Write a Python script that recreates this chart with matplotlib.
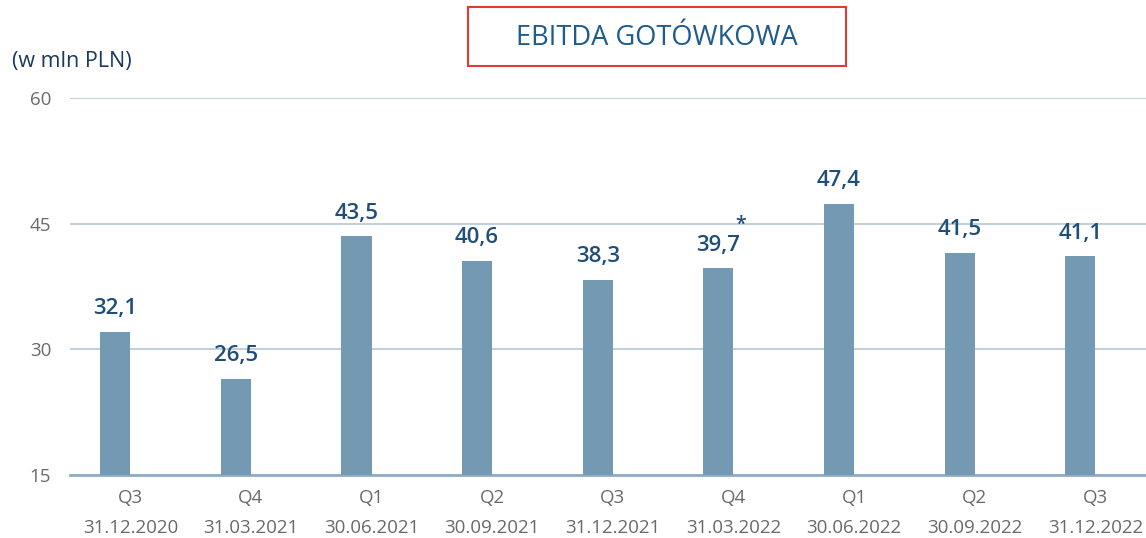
import matplotlib.pyplot as plt
import matplotlib.patches as mpatches
import numpy as np

quarters = ['Q3', 'Q4', 'Q1', 'Q2', 'Q3', 'Q4', 'Q1', 'Q2', 'Q3']
dates = ['31.12.2020', '31.03.2021', '30.06.2021', '30.09.2021', '31.12.2021',
         '31.03.2022', '30.06.2022', '30.09.2022', '31.12.2022']
values = [32.1, 26.5, 43.5, 40.6, 38.3, 39.7, 47.4, 41.5, 41.1]
starred = [5]  # index of the bar with the asterisk

plt.rcParams['font.family'] = ['Open Sans', 'DejaVu Sans']

BAR = '#7399b3'
NAVY = '#1f4e79'
GRID = '#b4c7d6'
TICK = '#6a6a6a'

fig = plt.figure(figsize=(11.46, 5.38), dpi=100)
ax = fig.add_axes([70 / 1146, 63 / 538, 1076 / 1146, 377 / 538])

x = np.arange(len(values))
ax.bar(x, values, width=0.25, align='edge', color=BAR, zorder=3)
# bars sit left of the category centre
for p in ax.patches:
    p.set_x(p.get_x() - 0.25)

for i, v in enumerate(values):
    ax.text(i - 0.125, v + 1.5, f'{v:.1f}'.replace('.', ','), ha='center', va='bottom',
            fontsize=16, color=NAVY, fontweight='semibold')
for i in starred:
    ax.text(i + 0.06, values[i] + 5.2, '*', ha='center', va='center',
            fontsize=14, color=NAVY, fontweight='semibold')

ax.set_xlim(-0.5, 8.42)
ax.set_ylim(15, 60)
ax.set_yticks([15, 30, 45, 60])
ax.set_yticklabels(['15', '30', '45', '60'])
ax.set_xticks(x)
ax.set_xticklabels([f'{q}\n{d}' for q, d in zip(quarters, dates)], linespacing=1.85)

ax.grid(axis='y', color=GRID, linewidth=1.2, zorder=0)
for s in ['top', 'right', 'left']:
    ax.spines[s].set_visible(False)
ax.spines['bottom'].set_color('#8fadc2')
ax.spines['bottom'].set_linewidth(2)
ax.tick_params(axis='both', length=0, colors=TICK, labelsize=13.5)
ax.tick_params(axis='y', pad=13.5)
ax.tick_params(axis='x', pad=10)

fig.text(12 / 1146, 1 - 61 / 538, '(w mln PLN)', fontsize=15.5, color='#1b3a5c',
         va='center', ha='left', fontweight='medium')

box = mpatches.Rectangle((468 / 1146, 1 - 66 / 538), 378 / 1146, 59 / 538,
                         transform=fig.transFigure, fill=False,
                         edgecolor='#e03c31', linewidth=1.5)
fig.patches.append(box)
fig.text(657 / 1146, 1 - 38 / 538, 'EBITDA GOTÓWKOWA', fontsize=19.6, color='#1f5c8b',
         ha='center', va='center')

fig.savefig('out.png', dpi=100)
